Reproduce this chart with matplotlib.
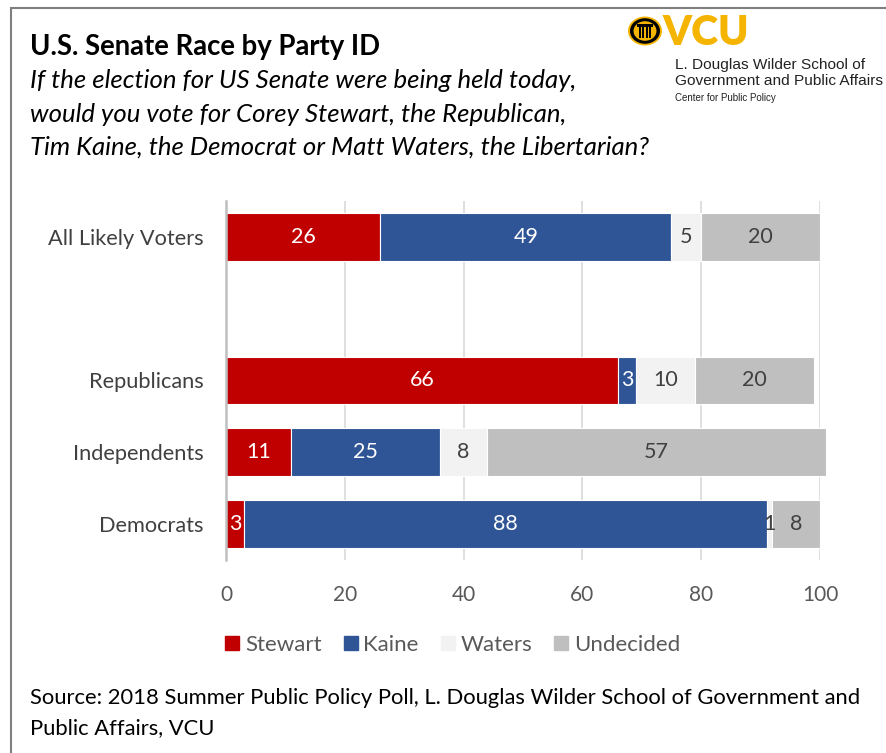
import matplotlib
matplotlib.use("Agg")
import matplotlib.pyplot as plt
from matplotlib.patches import Rectangle, Circle

plt.rcParams['font.family'] = ['Lato', 'DejaVu Sans']

# Survey results (percent), top to bottom; the blank row leaves a gap
groups = ["All Likely Voters", "", "Republicans", "Independents", "Democrats"]
stewart = [26, None, 66, 11, 3]
kaine = [49, None, 3, 25, 88]
waters = [5, None, 10, 8, 1]
undecided = [20, None, 20, 57, 8]

series_names = ["Stewart", "Kaine", "Waters", "Undecided"]
series_colors = ["#C00000", "#2F5597", "#F2F2F2", "#BFBFBF"]
label_colors = ["white", "white", "#404040", "#404040"]
x_ticks = [0, 20, 40, 60, 80, 100]

fig = plt.figure(figsize=(8.86, 7.53), dpi=100)
ax = fig.add_axes([0.2551, 0.2563, 0.6704, 0.4768])

lefts = [0] * len(groups)
for vals, name, col, tcol in zip([stewart, kaine, waters, undecided],
                                 series_names, series_colors, label_colors):
    for i, v in enumerate(vals):
        if v is None:
            continue
        ax.barh(i, v, left=lefts[i], height=0.667, color=col,
                edgecolor="white", linewidth=0.8, clip_on=False, zorder=3)
        ax.text(lefts[i] + v / 2, i, str(v), ha="center", va="center",
                fontsize=15.5, color=tcol, zorder=4)
        lefts[i] += v

ax.set_xlim(0, 100)
ax.set_ylim(4.5, -0.5)
ax.set_yticks(range(len(groups)))
ax.set_yticklabels(groups, fontsize=15.7, color="#404040")
ax.set_xticks(x_ticks)
ax.set_xticklabels([str(t) for t in x_ticks], fontsize=15, color="#595959")
ax.tick_params(length=0)
ax.tick_params(axis="x", pad=18)
ax.tick_params(axis="y", pad=16)
ax.grid(axis="x", color="#D9D9D9", linewidth=1.2, zorder=0)
for s in ["top", "right", "bottom"]:
    ax.spines[s].set_visible(False)
ax.spines["left"].set_color("#BFBFBF")
ax.spines["left"].set_linewidth(1.8)
ax.spines["left"].set_zorder(5)

# legend
handles = [Rectangle((0, 0), 1, 1, color=c) for c in series_colors]
leg = fig.legend(handles, series_names, loc="center", ncol=4,
                 bbox_to_anchor=(0.511, 0.1434), frameon=False, fontsize=16,
                 handlelength=0.63, handleheight=0.63, handletextpad=0.25,
                 columnspacing=1.0)
for t in leg.get_texts():
    t.set_color("#595959")

# titles
fig.text(30 / 886, 1 - 47 / 753, "U.S. Senate Race by Party ID", fontsize=19.8,
         fontweight="bold", color="black", va="center")
subtitle = ["If the election for US Senate were being held today,",
            "would you vote for Corey Stewart, the Republican,",
            "Tim Kaine, the Democrat or Matt Waters, the Libertarian?"]
for k, line in enumerate(subtitle):
    fig.text(30 / 886, 1 - (81 + 33 * k) / 753, line, fontsize=18.5,
             style="italic", color="black", va="center")

fig.text(30 / 886, 1 - 698 / 753,
         "Source: 2018 Summer Public Policy Poll, L. Douglas Wilder School of Government and",
         fontsize=15.8, color="black", va="center")
fig.text(30 / 886, 1 - 728 / 753, "Public Affairs, VCU",
         fontsize=15.8, color="black", va="center")

# VCU logo: seal, wordmark and school name
gold = "#F5B400"
lx, ly = 645 / 886, 1 - 31 / 753
for r, c in [(17, gold), (15, "black"), (11.5, gold)]:
    fig.add_artist(Circle((lx, ly), r / 886, transform=fig.transFigure,
                          facecolor=c, edgecolor="none"))
for dx in [-5, -1.7, 1.7, 5]:
    fig.add_artist(Rectangle((lx + (dx - 0.9) / 886, ly - 7 / 753), 1.8 / 886,
                             11 / 753, transform=fig.transFigure,
                             facecolor="black", edgecolor="none"))
fig.add_artist(Rectangle((lx - 8 / 886, ly + 4 / 753), 16 / 886, 3 / 753,
                         transform=fig.transFigure, facecolor="black",
                         edgecolor="none"))
fig.text(663 / 886, 1 - 33 / 753, "VCU", fontsize=29.5, fontweight="heavy",
         color=gold, va="center")
fig.text(675 / 886, 1 - 65 / 753, "L. Douglas Wilder School of", fontsize=11.1,
         color="#222222", va="center", family=["Liberation Sans"])
fig.text(675 / 886, 1 - 81 / 753, "Government and Public Affairs", fontsize=11.1,
         color="#222222", va="center", family=["Liberation Sans"])
fig.text(675 / 886, 1 - 98 / 753, "Center for Public Policy", fontsize=7,
         color="#222222", va="center", family=["Liberation Sans"])

# outer frame
fig.add_artist(Rectangle((11 / 886, -0.1), 1.2, 1.1 - 8 / 753,
                         transform=fig.transFigure, fill=False,
                         edgecolor="#7F7F7F", linewidth=1.5))

fig.savefig("out.png", dpi=100)
